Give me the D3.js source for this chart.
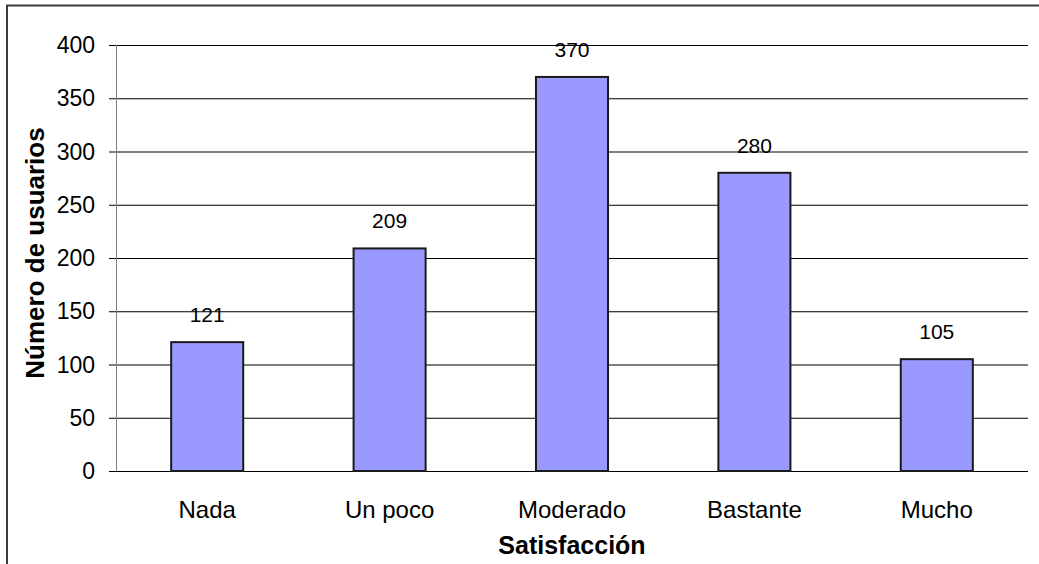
<!DOCTYPE html>
<html>
<head>
<meta charset="utf-8">
<script src="https://cdn.jsdelivr.net/npm/d3@7"></script>
<style>
  html, body { margin: 0; padding: 0; background: #fff; }
  svg { display: block; font-family: "Liberation Sans", Arial, sans-serif; }
</style>
</head>
<body>
<svg id="chart" width="1039" height="564"></svg>
<script>
// Satisfaction survey: number of users per satisfaction level
const categories = ["Nada", "Un poco", "Moderado", "Bastante", "Mucho"];
const users = [121, 209, 370, 280, 105];
const yTicks = [0, 50, 100, 150, 200, 250, 300, 350, 400];

const svg = d3.select("#chart");

// frame around the chart (runs off the right and bottom edges)
svg.append("rect")
  .attr("x", 7).attr("y", 5.5)
  .attr("width", 1100).attr("height", 600)
  .attr("fill", "none")
  .attr("stroke", "#3a3a3a")
  .attr("stroke-width", 2);

const plot = { left: 116, right: 1028, top: 45, bottom: 471 };

const x = d3.scaleBand()
  .domain(categories)
  .range([plot.left, plot.right])
  .paddingInner(0.605)
  .paddingOuter(0.3025);

const y = d3.scaleLinear()
  .domain([0, 400])
  .range([plot.bottom, plot.top]);

// horizontal gridlines with tick marks and labels
const yAxis = d3.axisLeft(y)
  .tickValues(yTicks)
  .tickSize(-(plot.right - plot.left))
  .tickSizeOuter(0)
  .tickPadding(21)
  .tickFormat(d3.format("d"));

const gy = svg.append("g")
  .attr("transform", `translate(${plot.left},0)`)
  .call(yAxis);
gy.select(".domain").remove();
gy.selectAll(".tick line")
  .attr("x1", -7)
  .attr("stroke", "#000")
  .attr("stroke-width", 1);
gy.selectAll(".tick text")
  .attr("fill", "#000")
  .attr("font-size", 23)
  .attr("dy", "0.33em")
  .attr("font-family", "Liberation Sans, Arial, sans-serif");

// left axis line
svg.append("line")
  .attr("x1", plot.left + 0.5).attr("x2", plot.left + 0.5)
  .attr("y1", plot.top).attr("y2", plot.bottom)
  .attr("stroke", "#808080")
  .attr("stroke-width", 1);

// bars
svg.append("g").selectAll("rect")
  .data(categories)
  .join("rect")
  .attr("x", d => x(d))
  .attr("y", (d, i) => y(users[i]))
  .attr("width", x.bandwidth())
  .attr("height", (d, i) => y(0) - y(users[i]))
  .attr("fill", "#9999FF")
  .attr("stroke", "#1a1a1a")
  .attr("stroke-width", 2);

// value labels
svg.append("g").selectAll("text")
  .data(categories)
  .join("text")
  .attr("x", d => x(d) + x.bandwidth() / 2)
  .attr("y", (d, i) => y(users[i]) - 20)
  .attr("text-anchor", "middle")
  .attr("font-size", 21)
  .attr("fill", "#000")
  .text((d, i) => users[i]);

// category labels
svg.append("g").selectAll("text")
  .data(categories)
  .join("text")
  .attr("x", d => x(d) + x.bandwidth() / 2)
  .attr("y", 518)
  .attr("text-anchor", "middle")
  .attr("font-size", 24)
  .attr("fill", "#000")
  .text(d => d);

// axis titles
svg.append("text")
  .attr("x", (plot.left + plot.right) / 2)
  .attr("y", 554)
  .attr("text-anchor", "middle")
  .attr("font-size", 25)
  .attr("font-weight", "bold")
  .text("Satisfacción");

svg.append("text")
  .attr("transform", `translate(44,253) rotate(-90)`)
  .attr("text-anchor", "middle")
  .attr("font-size", 26)
  .attr("font-weight", "bold")
  .text("Número de usuarios");
</script>
</body>
</html>
